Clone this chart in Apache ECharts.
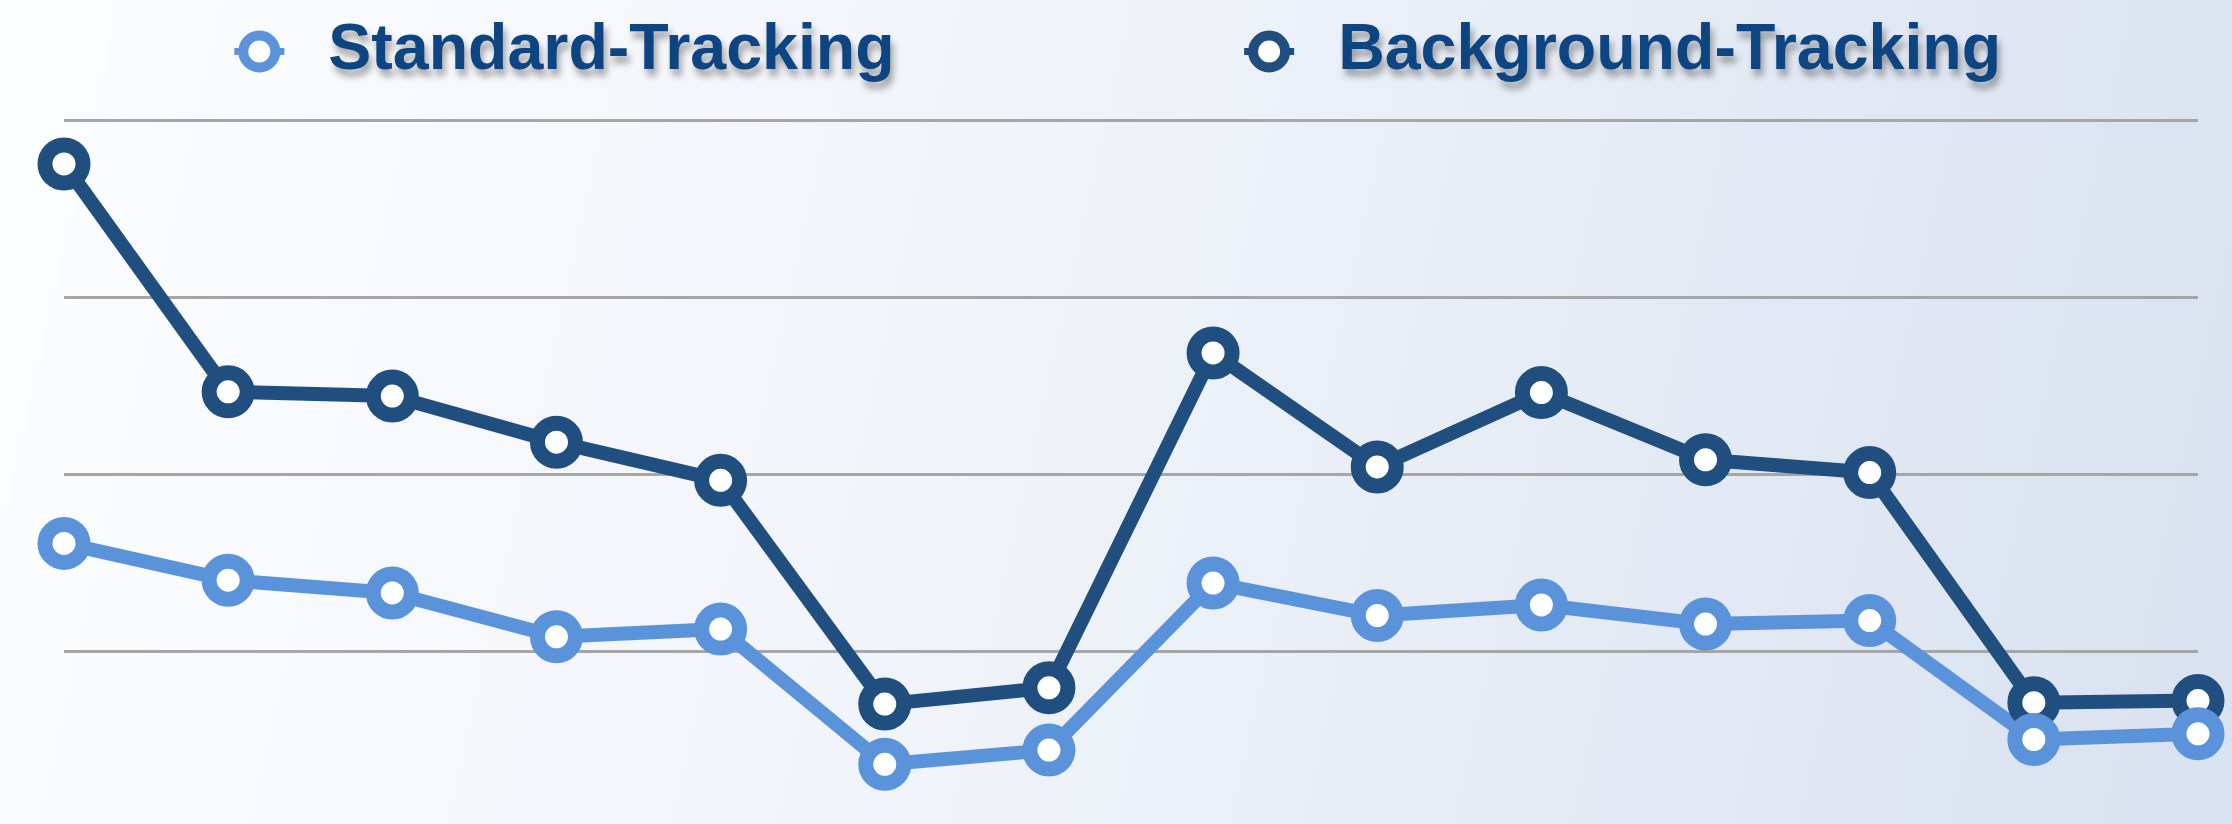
<!DOCTYPE html>
<html>
<head>
<meta charset="utf-8">
<script src="https://cdn.jsdelivr.net/npm/echarts@6/dist/echarts.min.js"></script>
<style>
html,body{margin:0;padding:0;width:2232px;height:824px;overflow:hidden;}
#chart{width:2232px;height:824px;}
</style>
</head>
<body>
<div id="chart"></div>
<script>
const categories = ['1','2','3','4','5','6','7','8','9','10','11','12','13','14'];
const standardTracking = [40.2, 35.0, 33.2, 27.0, 28.1, 9.0, 11.0, 34.6, 30.0, 31.5, 28.8, 29.3, 12.5, 13.3];
const backgroundTracking = [93.8, 61.6, 61.0, 54.5, 49.1, 17.5, 19.8, 67.1, 51.0, 61.5, 52.0, 50.2, 17.7, 18.0];

const chart = echarts.init(document.getElementById('chart'), null, {renderer:'canvas'});
const option = {
  backgroundColor: {
    type: 'linear', x: 0, y: 0.2, x2: 1, y2: 0.8,
    colorStops: [
      {offset: 0, color: '#fcfdfe'},
      {offset: 0.45, color: '#f0f3f9'},
      {offset: 1, color: '#d9e2f0'}
    ]
  },
  animation: false,
  legend: {
    data: ['Standard-Tracking', 'Background-Tracking'],
    left: 'center',
    top: 14,
    itemWidth: 50,
    itemHeight: 40,
    itemGap: 346,
    itemStyle: { borderWidth: 10 },
    lineStyle: { width: 7 },
    textStyle: {
      fontFamily: '"Liberation Sans", Arial, sans-serif',
      fontWeight: 'bold',
      fontSize: 64.5,
      color: '#0d4482',
      padding: [0, 0, 20, 39],
      textShadowColor: 'rgba(0,0,0,0.35)',
      textShadowBlur: 7,
      textShadowOffsetX: 3,
      textShadowOffsetY: 7
    }
  },
  grid: { left: 64, right: 34, top: 120, height: 708, outerBoundsMode: 'none' },
  xAxis: {
    type: 'category',
    data: categories,
    boundaryGap: false,
    axisLine: { show: false },
    axisTick: { show: false },
    axisLabel: { show: false },
    splitLine: { show: false }
  },
  yAxis: {
    type: 'value',
    min: 0, max: 100, interval: 25,
    axisLine: { show: false },
    axisTick: { show: false },
    axisLabel: { show: false },
    splitLine: { lineStyle: { color: '#a6a6a6', width: 3 } }
  },
  series: [
    {
      name: 'Background-Tracking',
      type: 'line',
      data: backgroundTracking,
      symbol: 'circle',
      symbolSize: 38,
      lineStyle: { color: '#1f4e7f', width: 14 },
      itemStyle: { color: '#ffffff', borderColor: '#1f4e7f', borderWidth: 15 }
    },
    {
      name: 'Standard-Tracking',
      type: 'line',
      data: standardTracking,
      symbol: 'circle',
      symbolSize: 38,
      lineStyle: { color: '#5a93d9', width: 14 },
      itemStyle: { color: '#ffffff', borderColor: '#5a93d9', borderWidth: 15 }
    }
  ]
};
chart.setOption(option);
</script>
</body>
</html>
